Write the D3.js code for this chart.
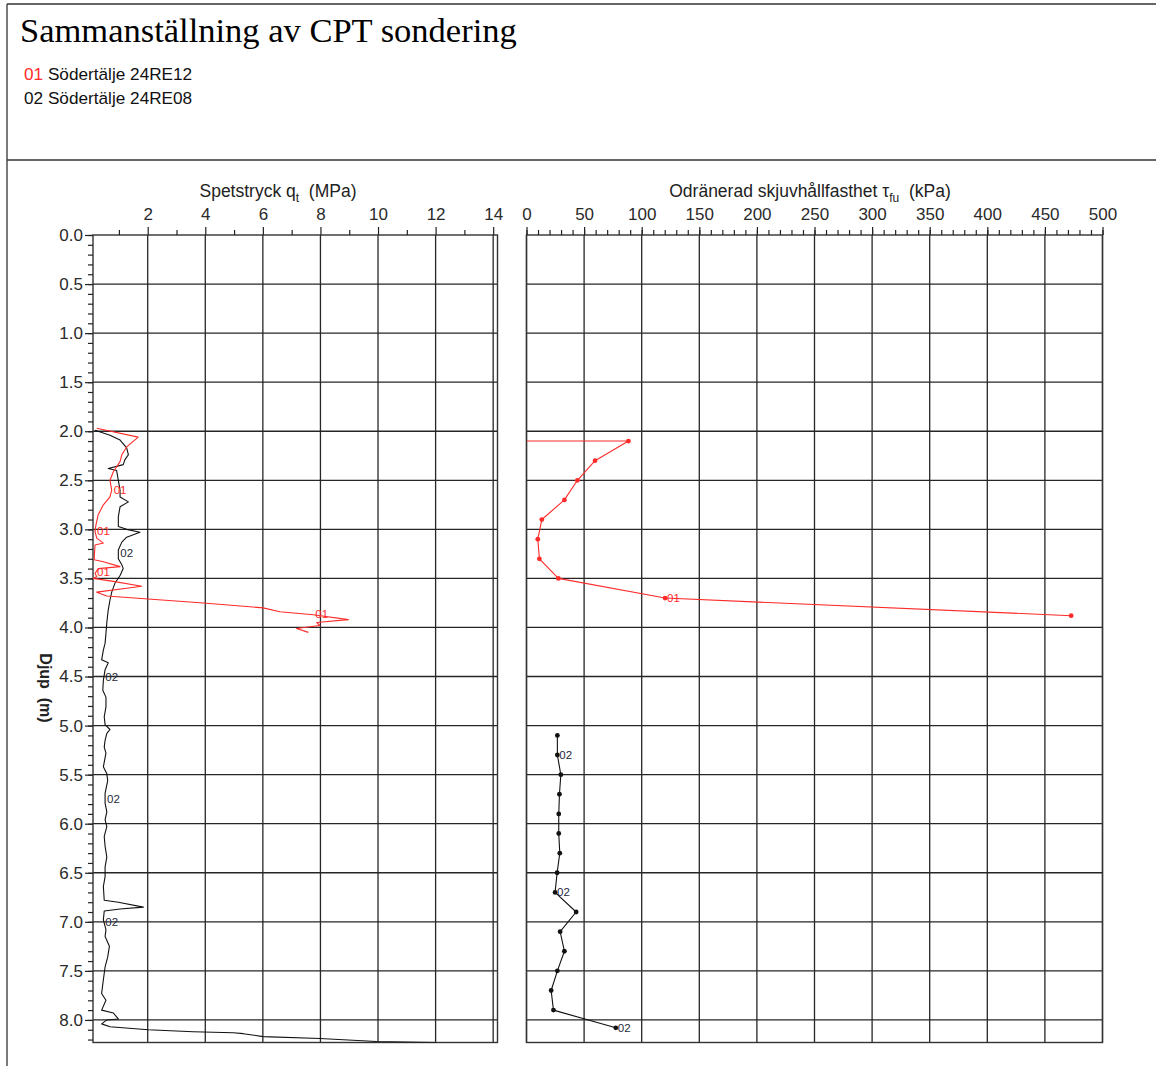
<!DOCTYPE html>
<html>
<head>
<meta charset="utf-8">
<script src="https://cdn.jsdelivr.net/npm/d3@7"></script>
<style>
    body { margin: 0; background: #fff; }
    text { font-family: "Liberation Sans", Arial, sans-serif; }
</style>
</head>
<body>
<script>
// sonderingar
var probeIds = ["01", "02"];
var probeNames = ["Södertälje 24RE12", "Södertälje 24RE08"];
var probeColors = ["#ff2a2a", "#111111"];

// spetstryck qt (MPa) mot djup (m)
var depth01 = [1.97, 2.06, 2.16, 2.24, 2.31, 2.41, 2.50, 2.60, 2.67, 2.75,
    2.85, 2.96, 3.02, 3.09, 3.14, 3.16, 3.31, 3.33, 3.38, 3.40,
    3.45, 3.48, 3.50, 3.53, 3.58, 3.60, 3.64, 3.68, 3.75, 3.80,
    3.84, 3.87, 3.92, 3.95, 3.98, 4.01, 4.05];
var qt01 = [0.23, 1.67, 1.27, 1.10, 1.04, 0.81, 0.69, 0.75, 0.69, 0.46,
    0.28, 0.20, 0.17, 0.23, 0.46, 0.17, 0.14, 0.46, 1.04, 0.28,
    0.17, 0.23, 0.11, 0.81, 1.79, 1.27, 0.23, 0.58, 3.93, 6.01,
    6.59, 7.75, 8.97, 7.87, 7.98, 7.17, 7.58];

var depth02 = [1.99, 2.04, 2.09, 2.17, 2.24, 2.29, 2.34, 2.38, 2.40, 2.50,
    2.60, 2.67, 2.72, 2.77, 2.87, 2.97, 3.00, 3.03, 3.08, 3.13,
    3.21, 3.30, 3.36, 3.40, 3.47, 3.55, 3.64, 3.72, 3.82, 3.95,
    4.06, 4.16, 4.23, 4.33, 4.36, 4.43, 4.54, 4.64, 4.71, 4.81,
    4.91, 4.99, 5.04, 5.08, 5.15, 5.22, 5.28, 5.42, 5.49, 5.56,
    5.69, 5.79, 5.88, 5.96, 6.03, 6.13, 6.23, 6.34, 6.44, 6.54,
    6.64, 6.78, 6.80, 6.85, 6.87, 6.89, 6.98, 7.08, 7.15, 7.25,
    7.36, 7.46, 7.59, 7.73, 7.80, 7.90, 7.93, 7.99, 8.00, 8.04,
    8.07, 8.10, 8.12, 8.13, 8.14, 8.17, 8.19, 8.22, 8.23];
var qt02 = [0.17, 0.69, 1.04, 1.27, 1.33, 1.21, 1.15, 0.63, 0.92, 0.98,
    1.04, 1.04, 1.33, 1.04, 0.98, 0.98, 1.27, 1.73, 1.27, 1.10,
    0.98, 0.98, 1.10, 1.15, 1.04, 0.86, 0.75, 0.69, 0.63, 0.58,
    0.55, 0.52, 0.46, 0.40, 0.63, 0.52, 0.46, 0.44, 0.55, 0.55,
    0.49, 0.52, 0.69, 0.58, 0.52, 0.49, 0.55, 0.46, 0.58, 0.61,
    0.52, 0.52, 0.58, 0.52, 0.58, 0.49, 0.52, 0.58, 0.52, 0.52,
    0.46, 0.49, 0.98, 1.85, 1.04, 0.49, 0.46, 0.55, 0.52, 0.67,
    0.61, 0.52, 0.46, 0.40, 0.55, 0.40, 0.81, 0.98, 0.58, 0.40,
    0.69, 2.02, 3.58, 4.97, 5.32, 6.01, 7.98, 9.95, 12.03];

// odränerad skjuvhållfasthet (kPa) mot djup (m)
var tauDepth01 = [2.10, 2.10, 2.30, 2.50, 2.70, 2.90, 3.10, 3.30, 3.50, 3.70, 3.88];
var tau01 = [0, 88.5, 59.5, 44.2, 32.9, 13.3, 9.8, 11.2, 27.7, 120.3, 472.8];
var tauDepth02 = [5.10, 5.30, 5.50, 5.70, 5.90, 6.10, 6.30, 6.50, 6.70, 6.90, 7.10, 7.30, 7.50, 7.70, 7.90, 8.08];
var tau02 = [26.8, 26.8, 29.8, 28.6, 28.0, 28.0, 28.9, 26.6, 24.8, 43.1, 29.2, 32.9, 26.8, 21.4, 23.4, 77.5];

// etiketter längs kurvorna (djup)
var qtLabelDepth01 = [2.60, 3.02, 3.43, 3.86];
var qtLabelDepth02 = [3.24, 4.50, 5.75, 7.00];
var tauLabelDepth01 = [3.70];
var tauLabelDepth02 = [5.30, 6.70, 8.08];

// axlar
var qtTicks = [2, 4, 6, 8, 10, 12, 14];
var qtMinorTicks = [1, 3, 5, 7, 9, 11, 13];
var tauTicks = [0, 50, 100, 150, 200, 250, 300, 350, 400, 450, 500];
var tauMinorTicks = d3.range(0, 501, 10);
var depthTicks = d3.range(0, 8.01, 0.5);
var depthMinorTicks = d3.range(0, 8.21, 0.1);

function drawChart() {
    var body = d3.select("body");
    var width = 1156;
    var height = 1066;
    var gridColor = "#262626";

    var svg = body.append("svg")
        .attr("width", width)
        .attr("height", height);

    /*****************  Header **********************/

    svg.append("line").attr("x1", 7).attr("x2", width).attr("y1", 4).attr("y2", 4)
        .style("stroke", "#333").style("stroke-width", 1.3);
    svg.append("line").attr("x1", 7).attr("x2", 7).attr("y1", 4).attr("y2", height)
        .style("stroke", "#333").style("stroke-width", 1.3);
    svg.append("line").attr("x1", 7).attr("x2", width).attr("y1", 160).attr("y2", 160)
        .style("stroke", "#333").style("stroke-width", 1.3);

    svg.append("text")
        .attr("x", 20)
        .attr("y", 42)
        .style("font-family", "'Liberation Serif', 'Times New Roman', serif")
        .style("font-size", "34.5px")
        .text("Sammanställning av CPT sondering");

    var legend = svg.selectAll(".legendRow")
        .data(probeIds)
        .enter()
        .append("text")
        .attr("class", "legendRow")
        .attr("x", 24)
        .attr("y", function (d, i) {
            return 80 + i * 23.5;
        })
        .style("font-size", "17.2px");
    legend.append("tspan")
        .style("fill", function (d, i) {
            return i == 0 ? "#ff2a2a" : "#111";
        })
        .text(function (d) {
            return d;
        });
    legend.append("tspan")
        .style("fill", "#111")
        .text(function (d, i) {
            return " " + probeNames[i];
        });

    /*****************  Scales **********************/

    var top = 235;
    var bottom = 1042.5;
    var y = d3.scaleLinear().domain([0, 8.23]).range([top, bottom]);
    var xQ = d3.scaleLinear().domain([0.1, 14.15]).range([93, 497.5]);
    var xT = d3.scaleLinear().domain([0, 500]).range([526.5, 1102.5]);

    var defs = svg.append("defs");
    defs.append("clipPath").attr("id", "clipQ").append("rect")
        .attr("x", xQ.range()[0]).attr("y", top)
        .attr("width", xQ.range()[1] - xQ.range()[0]).attr("height", bottom - top);
    defs.append("clipPath").attr("id", "clipT").append("rect")
        .attr("x", xT.range()[0]).attr("y", top)
        .attr("width", xT.range()[1] - xT.range()[0]).attr("height", bottom - top);

    /*****************  Grids **********************/

    function drawGrid(x, vTicks) {
        var g = svg.append("g");
        g.selectAll(".vgrid")
            .data(vTicks)
            .enter()
            .append("line")
            .attr("x1", function (d) { return x(d); })
            .attr("x2", function (d) { return x(d); })
            .attr("y1", top)
            .attr("y2", bottom)
            .style("stroke", gridColor)
            .style("stroke-width", 1.3);
        g.selectAll(".hgrid")
            .data(depthTicks.filter(function (d) { return d > 0; }))
            .enter()
            .append("line")
            .attr("x1", x.range()[0])
            .attr("x2", x.range()[1])
            .attr("y1", function (d) { return y(d); })
            .attr("y2", function (d) { return y(d); })
            .style("stroke", gridColor)
            .style("stroke-width", 1.3);
        g.append("rect")
            .attr("x", x.range()[0])
            .attr("y", top)
            .attr("width", x.range()[1] - x.range()[0])
            .attr("height", bottom - top)
            .style("fill", "none")
            .style("stroke", "#333")
            .style("stroke-width", 1.4);
    }
    drawGrid(xQ, qtTicks);
    drawGrid(xT, tauTicks);

    /*****************  Axes **********************/

    function styleAxis(g, showText) {
        g.select(".domain").remove();
        g.selectAll(".tick line").style("stroke", "#222").style("stroke-width", 1.2);
        g.selectAll(".tick text")
            .style("font-family", "'Liberation Sans', Arial, sans-serif")
            .style("font-size", "17px")
            .style("fill", "#2a2a2a");
        if (!showText) {
            g.selectAll(".tick text").remove();
        }
    }

    svg.append("g").attr("transform", "translate(0," + top + ")")
        .call(d3.axisTop(xQ).tickValues(qtMinorTicks).tickSize(5))
        .call(styleAxis, false);
    svg.append("g").attr("transform", "translate(0," + top + ")")
        .call(d3.axisTop(xQ).tickValues(qtTicks).tickSize(8).tickPadding(7).tickFormat(d3.format("d")))
        .call(styleAxis, true);

    svg.append("g").attr("transform", "translate(0," + top + ")")
        .call(d3.axisTop(xT).tickValues(tauMinorTicks).tickSize(5))
        .call(styleAxis, false);
    svg.append("g").attr("transform", "translate(0," + top + ")")
        .call(d3.axisTop(xT).tickValues(tauTicks).tickSize(8).tickPadding(7).tickFormat(d3.format("d")))
        .call(styleAxis, true);

    svg.append("g").attr("transform", "translate(" + xQ.range()[0] + ",0)")
        .call(d3.axisLeft(y).tickValues(depthMinorTicks).tickSize(5))
        .call(styleAxis, false);
    svg.append("g").attr("transform", "translate(" + xQ.range()[0] + ",0)")
        .call(d3.axisLeft(y).tickValues(depthTicks).tickSize(8).tickPadding(2).tickFormat(d3.format(".1f")))
        .call(styleAxis, true);

    // axeltitlar
    var qTitle = svg.append("text")
        .attr("x", 278)
        .attr("y", 197)
        .attr("text-anchor", "middle")
        .style("font-size", "17.5px")
        .style("fill", "#222");
    qTitle.append("tspan").text("Spetstryck q");
    qTitle.append("tspan").attr("dy", 5).style("font-size", "12px").text("t");
    qTitle.append("tspan").attr("dy", -5).text("\u00a0\u00a0(MPa)");

    var tTitle = svg.append("text")
        .attr("x", 810)
        .attr("y", 197)
        .attr("text-anchor", "middle")
        .style("font-size", "17.5px")
        .style("fill", "#222");
    tTitle.append("tspan").text("Odränerad skjuvhållfasthet τ");
    tTitle.append("tspan").attr("dy", 5).style("font-size", "12px").text("fu");
    tTitle.append("tspan").attr("dy", -5).text("\u00a0\u00a0(kPa)");

    svg.append("text")
        .attr("transform", "translate(40,688) rotate(90)")
        .attr("text-anchor", "middle")
        .style("font-size", "16px")
        .style("font-weight", "bold")
        .style("fill", "#222")
        .text("Djup\u00a0\u00a0(m)");

    /*****************  Curves **********************/

    function zipPoints(depths, values) {
        return depths.map(function (d, i) {
            return { depth: d, value: values[i] };
        });
    }

    function valueAt(depths, values, d) {
        var best = 0;
        for (var i = 0; i < depths.length; i++) {
            if (Math.abs(depths[i] - d) < Math.abs(depths[best] - d)) {
                best = i;
            }
        }
        return values[best];
    }

    function drawCurve(x, clipId, depths, values, color, labelDepths, label, markers) {
        var g = svg.append("g").attr("clip-path", "url(#" + clipId + ")");
        var pts = zipPoints(depths, values);
        var line = d3.line()
            .x(function (d) { return x(d.value); })
            .y(function (d) { return y(d.depth); });
        g.append("path")
            .datum(pts)
            .attr("d", line)
            .style("fill", "none")
            .style("stroke", color)
            .style("stroke-width", 1.1)
            .style("stroke-linejoin", "round");
        if (markers) {
            g.selectAll(".marker")
                .data(pts.filter(function (d) { return d.value > 0; }))
                .enter()
                .append("circle")
                .attr("cx", function (d) { return x(d.value); })
                .attr("cy", function (d) { return y(d.depth); })
                .attr("r", 2.4)
                .style("fill", color);
        }
        svg.selectAll(".lbl" + label + clipId)
            .data(labelDepths)
            .enter()
            .append("text")
            .attr("x", function (d) { return x(valueAt(depths, values, d)) + 2; })
            .attr("y", function (d) { return y(d) + 4; })
            .style("font-size", "11.5px")
            .style("fill", color == "#111111" ? "#1e2a3a" : color)
            .text(label);
    }

    drawCurve(xQ, "clipQ", depth02, qt02, probeColors[1], qtLabelDepth02, probeIds[1], false);
    drawCurve(xQ, "clipQ", depth01, qt01, probeColors[0], qtLabelDepth01, probeIds[0], false);
    drawCurve(xT, "clipT", tauDepth02, tau02, probeColors[1], tauLabelDepth02, probeIds[1], true);
    drawCurve(xT, "clipT", tauDepth01, tau01, probeColors[0], tauLabelDepth01, probeIds[0], true);
}

drawChart();
</script>
</body>
</html>
